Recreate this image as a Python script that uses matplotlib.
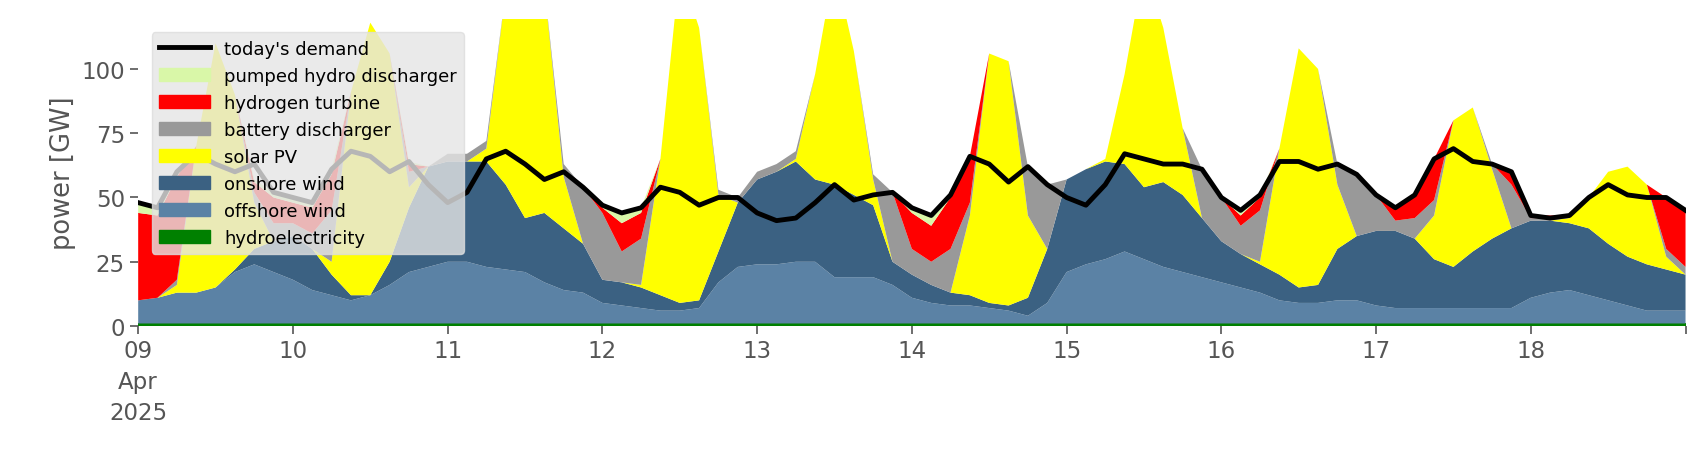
import numpy as np
import pandas as pd
import matplotlib
matplotlib.use("Agg")
import matplotlib.pyplot as plt
from matplotlib.lines import Line2D
from matplotlib.patches import Patch

times = pd.date_range("2025-04-09 00:00", "2025-04-19 00:00", freq="3h")

hydro = [1.0] * 81
offshore = [9,10,12,12,14,20,23,20,
            17,13,11,9,11,15,20,22,
            24,24,22,21,20,16,13,12,
            8,7,6,5,5,6,16,22,
            23,23,24,24,18,18,18,15,
            10,8,7,7,6,5,3,8,
            20,23,25,28,25,22,20,18,
            16,14,12,9,8,8,9,9,
            7,6,6,6,6,6,6,6,
            10,12,13,11,9,7,5,5, 5]
onshore = [0,0,0,0,0,1,6,12,
           17,16,8,2,0,9,25,39,
           39,39,41,33,21,27,24,19,
           9,9,8,6,3,3,12,25,
           33,36,39,32,36,32,28,9,
           9,7,5,4,2,2,7,21,
           36,37,38,34,28,33,30,23,
           16,13,11,10,6,7,20,25,
           29,30,27,19,16,22,27,31,
           30,28,26,26,22,19,18,16, 14]
solar = [0,0,3,57,95,68,18,0,
         0,0,5,79,106,81,8,0,
         0,0,5,75,105,88,20,0,
         0,0,1,53,130,106,22,0,
         0,0,1,41,85,56,10,0,
         0,0,0,31,97,95,32,0,
         0,0,1,35,86,60,26,0,
         0,0,1,49,93,84,25,0,
         0,0,0,17,57,56,27,0,
         0,0,2,12,28,35,31,5, 0]
battery = [0,0,2,0,0,0,4,7,
           5,6,20,0,0,0,6,0,
           3,3,3,0,0,0,5,22,
           26,12,18,0,0,0,2,2,
           3,3,3,0,0,0,2,27,
           10,9,17,5,0,0,19,25,
           0,0,0,0,0,0,0,19,
           17,11,20,0,0,0,8,24,
           14,4,8,6,0,0,2,17,
           1,1,1,0,0,0,0,3, 3]
hydrogen = [34,32,40,0,0,0,4,10,
            8,10,14,0,0,0,3,0,
            0,0,0,0,0,0,0,0,
            2,11,10,0,0,0,0,0,
            0,0,0,0,0,0,0,0,
            14,14,20,18,0,0,0,0,
            0,0,0,0,0,0,0,0,
            0,4,5,0,0,0,0,0,
            0,5,9,16,0,0,0,5,
            1,1,0,0,0,0,0,20, 22]
pumped = [4,3,2,0,0,0,1,2,
          2,2,2,0,0,0,1,0,
          0,0,0,0,0,0,0,0,
          1,4,2,0,0,0,0,0,
          0,0,0,0,0,0,0,0,
          2,4,1,0,0,0,0,0,
          0,0,0,0,0,0,0,0,
          0,2,1,0,0,0,0,0,
          0,0,0,0,0,0,0,0,
          0,0,0,0,0,0,0,0, 0]
demand = [48,46,60,67,63,60,63,52,
          50,48,61,68,66,60,64,55,
          48,52,65,68,63,57,60,54,
          47,44,46,54,52,47,50,50,
          44,41,42,48,55,49,51,52,
          46,43,51,66,63,56,62,55,
          50,47,55,67,65,63,63,61,
          50,45,51,64,64,61,63,59,
          51,46,51,65,69,64,63,60,
          43,42,43,50,55,51,50,50, 45]

labels = ["hydroelectricity", "offshore wind", "onshore wind", "solar PV",
          "battery discharger", "hydrogen turbine", "pumped hydro discharger"]
colors = ["#008000", "#5b82a5", "#3b6182", "#ffff00", "#999999", "#ff0000", "#d9f7a8"]

fig = plt.figure(figsize=(17.06, 4.6), dpi=100)
ax = fig.add_axes([0.081, 0.289, 0.907, 0.668])
ax.stackplot(times, hydro, offshore, onshore, solar, battery, hydrogen, pumped,
             colors=colors, linewidth=0)
ax.plot(times, demand, color="black", lw=3.5)

ax.set_xlim(times[0], times[-1])
ax.set_ylim(0, 119.5)
for s in ax.spines.values():
    s.set_visible(False)
days = pd.date_range("2025-04-09", "2025-04-19", freq="D")
ax.set_xticks(days)
ax.set_xticklabels(["09\nApr\n2025"] + [d.strftime("%d") for d in days[1:-1]] + [""],
                   linespacing=1.45)
ax.set_yticks([0, 25, 50, 75, 100])
ax.tick_params(labelsize=16.5, colors="#555555", length=6, width=1.2)
ax.set_ylabel("power [GW]", fontsize=18.5, color="#555555")

handles = [Line2D([0], [0], color="black", lw=3.5)] + \
          [Patch(color=c) for c in colors[::-1]]
names = ["today's demand"] + labels[::-1]
leg = ax.legend(handles, names, loc="upper left", bbox_to_anchor=(0.003, 0.985),
                fontsize=13, frameon=True, fancybox=True, handlelength=2.8)
leg.get_frame().set_facecolor("#e5e5e5")
leg.get_frame().set_edgecolor("#dddddd")
leg.get_frame().set_alpha(0.8)

fig.savefig("out.png", dpi=100)
